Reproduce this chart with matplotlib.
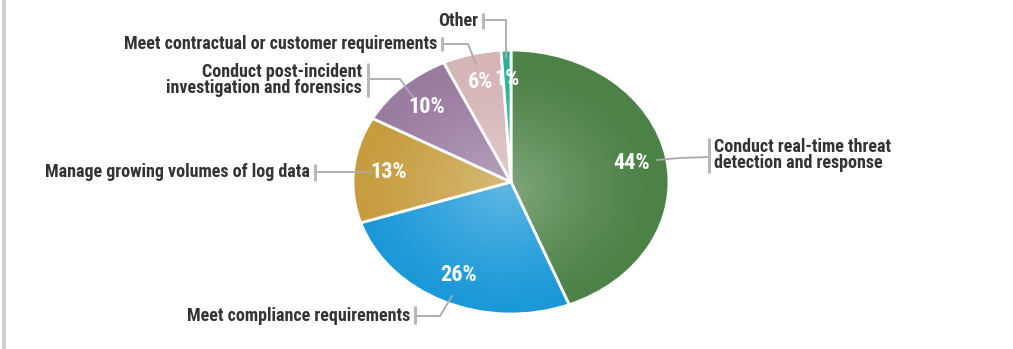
import numpy as np
import matplotlib
matplotlib.use("Agg")
import matplotlib.pyplot as plt
from matplotlib import font_manager
from matplotlib.patches import Circle

have = {f.name for f in font_manager.fontManager.ttflist}
for fam in ['Roboto Condensed', 'Liberation Sans Narrow', 'Lato', 'DejaVu Sans']:
    if fam in have:
        break
plt.rcParams['font.family'] = [fam, 'DejaVu Sans']

# data, clockwise from 12 o'clock
categories = ["Conduct real-time threat\ndetection and response",
              "Meet compliance requirements",
              "Manage growing volumes of log data",
              "Conduct post-incident\ninvestigation and forensics",
              "Meet contractual or customer requirements",
              "Other"]
values = [44, 26, 13, 10, 6, 1]
colors = ["#4d8247", "#1a98d8", "#c69c3e", "#9a7ca1", "#d6b5b7", "#27b393"]

W, H = 1013, 349
cx, cy, rx, ry = 511, 182, 158, 132   # pie centre and radii in pixels


def px(x, y):
    # pixel position -> pie data units
    return (x - cx) / rx, (cy - y) / ry


fig = plt.figure(figsize=(W / 100, H / 100), dpi=100)
ax = fig.add_axes([0, 0, 1, 1])

wedges, texts, autotexts = ax.pie(
    values, colors=colors, startangle=90, counterclock=False,
    autopct='%d%%', pctdistance=0.78,
    wedgeprops=dict(edgecolor='white', linewidth=2),
    textprops=dict(color='white', fontsize=16, fontweight='bold'))

# soft highlight towards the centre
g = np.linspace(-1, 1, 400)
X, Y = np.meshgrid(g, g)
r = np.hypot(X + 0.05, Y + 0.05)
shade = np.zeros((400, 400, 4))
shade[..., :3] = 1
shade[..., 3] = 0.30 * np.clip(1 - r / 0.95, 0, 1) ** 1.3
im = ax.imshow(shade, extent=(-1, 1, -1, 1), origin='lower', zorder=1.5,
               interpolation='bilinear')
im.set_clip_path(Circle((0, 0), 1, transform=ax.transData))

ax.set_aspect('auto')
ax.set_xlim(-cx / rx, (W - cx) / rx)
ax.set_ylim(-(H - cy) / ry, cy / ry)
ax.axis('off')
for w in wedges:
    w.set_zorder(1)
for t in autotexts:
    t.set_zorder(3)

# category labels with leader lines (pixel layout)
label_cfg = [
    # text anchor, ha, bar x, bar y-range, leader path
    ((714, 155), 'left', 709, (138, 173), [(657, 160), (680, 158), (709, 157)]),
    ((410, 316), 'right', 415, (306, 324), [(415, 316), (440, 316), (452, 296)]),
    ((310, 172), 'right', 315, (164, 181), [(315, 172), (372, 172)]),
    ((362, 80), 'right', 368, (63, 97), [(368, 79), (400, 79), (413, 97)]),
    ((437, 44), 'right', 442, (37, 51), [(442, 44), (468, 44), (476, 64)]),
    ((478, 21), 'right', 483, (13, 29), [(483, 20), (506, 20), (506, 58)]),
]
lc = "#a9a9a9"
for cat, (pos, ha, bx, (by0, by1), path) in zip(categories, label_cfg):
    ax.text(*px(*pos), cat, ha=ha, va='center', fontsize=13,
            fontweight='bold', color='#333333', linespacing=0.88, zorder=4)
    ax.plot(*zip(px(bx, by0), px(bx, by1)), color='#b8b8b8', lw=2.2,
            zorder=4, solid_capstyle='butt')
    pts = [px(*p) for p in path]
    ax.plot([p[0] for p in pts], [p[1] for p in pts], color=lc, lw=1.3,
            zorder=2.5)

# grey frame edge on the left
fig.add_artist(plt.Line2D([0.004, 0.004], [0, 1], transform=fig.transFigure,
                          color='#cfcfcf', lw=3))

fig.savefig("out.png", dpi=100)
